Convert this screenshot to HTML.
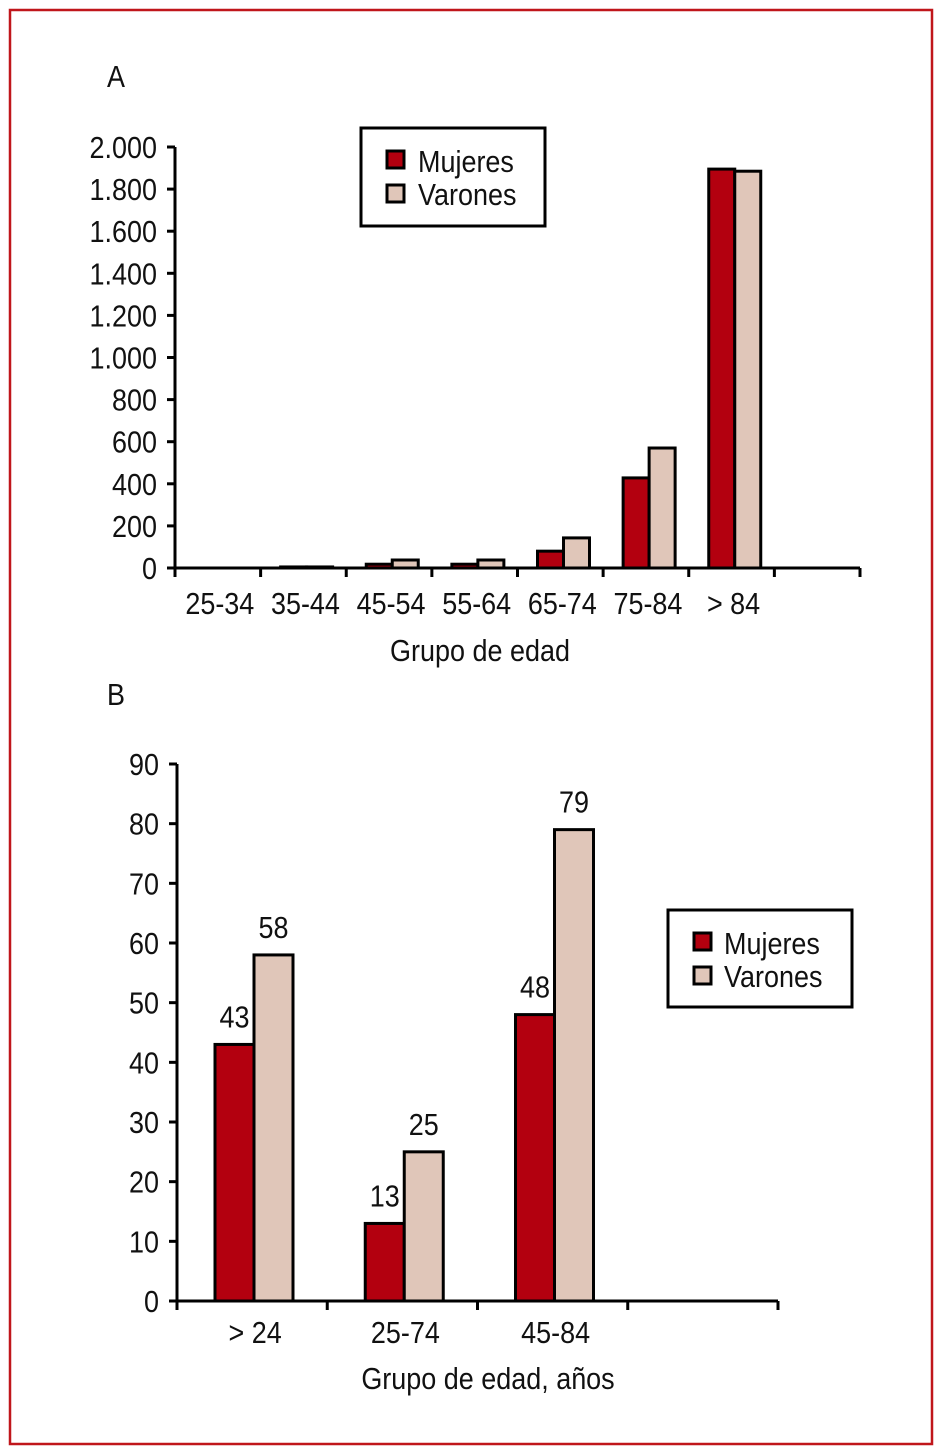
<!DOCTYPE html>
<html><head><meta charset="utf-8"><style>
html,body{margin:0;padding:0;background:#fff;}
svg{display:block;}
text{font-family:"Liberation Sans Narrow","Liberation Sans",sans-serif;fill:#111;}
</style></head><body>
<svg id="s" width="942" height="1452" viewBox="0 0 942 1452" xmlns="http://www.w3.org/2000/svg">
<rect x="10" y="10" width="922" height="1434" fill="none" stroke="#c0161b" stroke-width="2.5"/>
<text x="107" y="87" font-size="31">A</text>
<text x="107" y="705" font-size="31">B</text>
<g id="ga"></g>
<g id="gb"></g>
<g>
<rect x="361" y="128" width="184" height="98" fill="#fff" stroke="#000" stroke-width="3"/>
<rect x="387" y="151" width="17" height="17" fill="#b3000f" stroke="#000" stroke-width="3"/>
<text x="418" y="172" font-size="31">Mujeres</text>
<rect x="387" y="185" width="17" height="17" fill="#e0c6b9" stroke="#000" stroke-width="3"/>
<text x="418" y="205" font-size="31">Varones</text>
</g>
<g>
<rect x="668" y="910" width="184" height="97" fill="#fff" stroke="#000" stroke-width="3"/>
<rect x="694" y="933" width="17" height="17" fill="#b3000f" stroke="#000" stroke-width="3"/>
<text x="724" y="954" font-size="31">Mujeres</text>
<rect x="694" y="967" width="17" height="17" fill="#e0c6b9" stroke="#000" stroke-width="3"/>
<text x="724" y="987" font-size="31">Varones</text>
</g>
<text x="480" y="661" font-size="31" text-anchor="middle">Grupo de edad</text>
<text x="488" y="1389" font-size="31" text-anchor="middle">Grupo de edad, años</text>
</svg>
<script>
const catsA = ["25-34","35-44","45-54","55-64","65-74","75-84","> 84",""];
const mujA = [0, 5, 18, 18, 80, 428, 1895];
const varA = [0, 5, 38, 38, 143, 570, 1885];
const ticksA = [0,200,400,600,800,1000,1200,1400,1600,1800,2000];
const tickLabelsA = ["0","200","400","600","800","1.000","1.200","1.400","1.600","1.800","2.000"];

const catsB = ["> 24","25-74","45-84",""];
const mujB = [43, 13, 48];
const varB = [58, 25, 79];
const ticksB = [0,10,20,30,40,50,60,70,80,90];

const NS="http://www.w3.org/2000/svg";
function mk(parent, tag, attrs){const e=document.createElementNS(NS,tag);for(const k in attrs)e.setAttribute(k,attrs[k]);parent.appendChild(e);return e;}

function chart(g, o){
  const yS=v=>o.y0-(v-o.vmin)/(o.vmax-o.vmin)*(o.y0-o.y1);
  const cw=(o.x1-o.x0)/o.cats.length;
  let ax=mk(g,"line",{x1:o.x0,y1:o.y1,x2:o.x0,y2:o.y0,stroke:"#000","stroke-width":3});
  
  
  o.ticks.forEach((t,i)=>{
    const y=yS(t);
    let l=mk(g,"line",{x1:o.x0-8,y1:y,x2:o.x0,y2:y,stroke:"#000","stroke-width":3});
    
    
    let tx=mk(g,"text",{x:o.x0-18,y:y+11,"font-size":31,"text-anchor":"end"});
    tx.textContent=o.tickLabels[i];
    
    
  });
  let xa=mk(g,"line",{x1:o.x0,y1:o.y0,x2:o.x1,y2:o.y0,stroke:"#000","stroke-width":3});
  
  
  for(let i=0;i<=o.cats.length;i++){
    const x=o.x0+i*cw;
    let l=mk(g,"line",{x1:x,y1:o.y0,x2:x,y2:o.y0+9,stroke:"#000","stroke-width":3});
    
    
  }
  o.cats.forEach((c,i)=>{
    if(!c)return;
    let tx=mk(g,"text",{x:o.x0+(i+0.5)*cw+o.labDx,y:o.labY,"font-size":31,"text-anchor":"middle"});
    tx.textContent=c;
    
    
  });
  [[o.muj,"#b3000f","mujeres"],[o.var,"#e0c6b9","varones"]].forEach((s,si)=>{
    s[0].forEach((v,i)=>{
      const x=o.x0+i*cw+o.off+si*o.bw;
      const y=yS(v);
      let r=mk(g,"rect",{x:x,y:y,width:o.bw,height:Math.max(o.y0-y,0),fill:s[1],stroke:"#000","stroke-width":3});
      
      
      if(o.values){
        let tx=mk(g,"text",{x:x+o.bw/2,y:y-17,"font-size":31,"text-anchor":"middle"});
        tx.textContent=String(v);
        
        
      }
    });
  });
}
chart(document.getElementById('ga'),{x0:175,x1:860,y0:568,y1:147,vmin:0,vmax:2000,cats:catsA,muj:mujA,var:varA,ticks:ticksA,tickLabels:tickLabelsA,off:20,bw:26,labY:614,labDx:2,values:false});
chart(document.getElementById('gb'),{x0:177,x1:778,y0:1301,y1:764,vmin:0,vmax:90,cats:catsB,muj:mujB,var:varB,ticks:ticksB,tickLabels:ticksB.map(String),off:38,bw:39,labY:1343,labDx:3,values:true});
// condense all text horizontally around its anchor
document.querySelectorAll('#s text').forEach(t=>{
  const x=+t.getAttribute('x'), y=+t.getAttribute('y');
  t.setAttribute('x',0); t.setAttribute('y',0);
  t.setAttribute('transform','translate('+x+','+y+') scale(0.87,1)');
});
</script>
</body></html>
